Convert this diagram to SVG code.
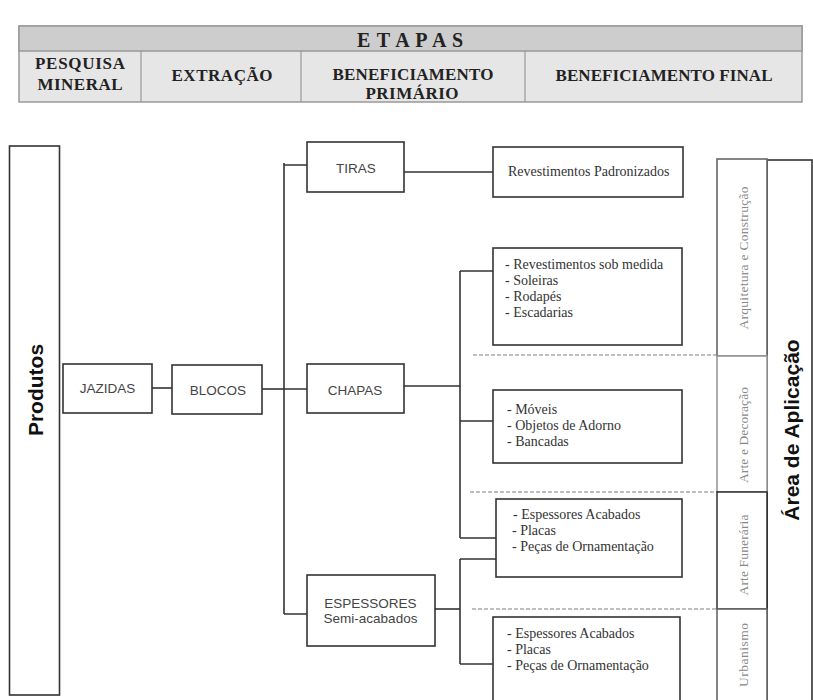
<svg xmlns="http://www.w3.org/2000/svg" width="813" height="700" viewBox="0 0 813 700">
<style>
.hdr{font-family:"Liberation Serif","Times New Roman",serif;font-weight:bold;fill:#222;text-anchor:middle}
.box{fill:#fff;stroke:#333;stroke-width:1.6}
.sans{font-family:"Liberation Sans",Arial,sans-serif;font-size:13.5px;fill:#444;text-anchor:middle}
.ser{font-family:"Liberation Serif","Times New Roman",serif;font-size:14px;fill:#333}
.rot{font-family:"Liberation Serif","Times New Roman",serif;font-size:13.5px;fill:#888;text-anchor:middle;dominant-baseline:central}
.big{font-family:"Liberation Sans",Arial,sans-serif;font-weight:bold;font-size:21px;fill:#111;text-anchor:middle;dominant-baseline:central}
.ln{stroke:#333;stroke-width:1.6;fill:none}
.dash{stroke:#aaa;stroke-width:1.5;stroke-dasharray:4 2;fill:none}
</style>

<g id="etapas">
<rect x="19" y="26" width="783" height="76" fill="#e6e6e6" stroke="#999" stroke-width="1.5"/>
<rect x="19" y="26" width="783" height="25" fill="#cdcdcd" stroke="#999" stroke-width="1.5"/>
<path d="M141 51V102M301 51V102M525 51V102" stroke="#999" stroke-width="1.2"/>
<text class="hdr" x="410" y="47" font-size="20" textLength="106">E T A P A S</text>
<text class="hdr" x="80" y="69" font-size="17" textLength="90">PESQUISA</text>
<text class="hdr" x="80" y="90" font-size="17" textLength="85">MINERAL</text>
<text class="hdr" x="222" y="81" font-size="17" textLength="101">EXTRAÇÃO</text>
<text class="hdr" x="413" y="80" font-size="17" textLength="161">BENEFICIAMENTO</text>
<text class="hdr" x="412" y="99" font-size="17" textLength="93">PRIMÁRIO</text>
<text class="hdr" x="664" y="81" font-size="17" textLength="217">BENEFICIAMENTO FINAL</text>
</g>

<g id="connectors">
<path class="ln" d="M152 388H172" stroke-width="2.4"/>
<path class="ln" d="M262 389H284"/>
<path class="ln" d="M284 163V614"/>
<path class="ln" d="M284 165H307M284 389H307M284 614H307"/>
<path class="ln" d="M404 172H493"/>
<path class="ln" d="M404 386H460"/>
<path class="ln" d="M460 271V538"/>
<path class="ln" d="M460 271H493M460 421H493M460 538H496"/>
<path class="ln" d="M435 609H460"/>
<path class="ln" d="M460 559V664"/>
<path class="ln" d="M460 559H496M460 664H493"/>
<path class="dash" d="M473 355H717M470 492H717M472 609H717"/>
</g>

<g id="produtos">
<rect class="box" x="9.5" y="146" width="50" height="549"/>
<text class="big" transform="translate(35,390) rotate(-90)">Produtos</text>
</g>

<g id="jazidas">
<rect class="box" x="63" y="364" width="89" height="49"/>
<text class="sans" x="107.5" y="393">JAZIDAS</text>
</g>

<g id="blocos">
<rect class="box" x="172" y="365" width="90" height="49"/>
<text class="sans" x="218" y="395">BLOCOS</text>
</g>

<g id="tiras">
<rect class="box" x="307" y="142" width="97" height="50"/>
<text class="sans" x="356" y="173">TIRAS</text>
</g>

<g id="chapas">
<rect class="box" x="307" y="364" width="97" height="49"/>
<text class="sans" x="355" y="395">CHAPAS</text>
</g>

<g id="espessores">
<rect class="box" x="307" y="575" width="128" height="71"/>
<text class="sans" x="370.5" y="608">ESPESSORES</text>
<text class="sans" x="370.5" y="623">Semi-acabados</text>
</g>

<g id="revestimentos-padronizados">
<rect class="box" x="493" y="147" width="190" height="50"/>
<text class="ser" x="508" y="176">Revestimentos Padronizados</text>
</g>

<g id="arquitetura-itens">
<rect class="box" x="493" y="248" width="189" height="97"/>
<text class="ser" x="505" y="269">- Revestimentos sob medida</text>
<text class="ser" x="505" y="285">- Soleiras</text>
<text class="ser" x="505" y="301">- Rodapés</text>
<text class="ser" x="505" y="317">- Escadarias</text>
</g>

<g id="decoracao-itens">
<rect class="box" x="493" y="390" width="189" height="73"/>
<text class="ser" x="507" y="414">- Móveis</text>
<text class="ser" x="507" y="430">- Objetos de Adorno</text>
<text class="ser" x="507" y="446">- Bancadas</text>
</g>

<g id="funeraria-itens">
<rect class="box" x="496" y="499" width="186" height="78"/>
<text class="ser" x="513" y="519">- Espessores Acabados</text>
<text class="ser" x="512" y="535">- Placas</text>
<text class="ser" x="512" y="551">- Peças de Ornamentação</text>
</g>

<g id="urbanismo-itens">
<rect class="box" x="493" y="617" width="187" height="90"/>
<text class="ser" x="507" y="638">- Espessores Acabados</text>
<text class="ser" x="507" y="654">- Placas</text>
<text class="ser" x="507" y="670">- Peças de Ornamentação</text>
</g>

<g id="area-aplicacao">
<rect class="box" x="767" y="160" width="45" height="550"/>
<text class="big" transform="translate(791,430) rotate(-90)">Área de Aplicação</text>
</g>

<g id="arquitetura">
<rect x="717" y="159" width="50" height="197" fill="#fff" stroke="#666" stroke-width="1.6"/>
<text class="rot" transform="translate(743,258) rotate(-90)" textLength="143">Arquitetura e Construção</text>
</g>

<g id="arte-decoracao">
<rect x="717" y="356" width="50" height="136" fill="#fff" stroke="#999" stroke-width="1.6"/>
<text class="rot" transform="translate(743,435) rotate(-90)" textLength="96">Arte e Decoração</text>
</g>

<g id="arte-funeraria">
<rect x="717" y="492" width="50" height="117" fill="#fff" stroke="#222" stroke-width="1.4"/>
<text class="rot" transform="translate(743,555) rotate(-90)" textLength="81">Arte Funerária</text>
</g>

<g id="urbanismo">
<rect x="717" y="609" width="50" height="100" fill="#fff" stroke="#666" stroke-width="1.6"/>
<text class="rot" transform="translate(743,655) rotate(-90)" textLength="64">Urbanismo</text>
</g>
</svg>
